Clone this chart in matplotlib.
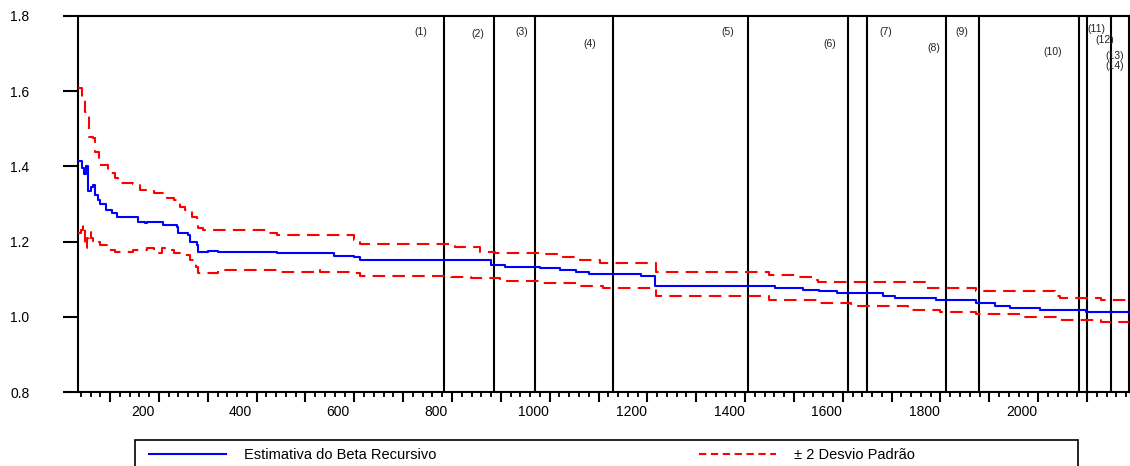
import matplotlib
matplotlib.use('Agg')
import matplotlib.pyplot as plt
from matplotlib.lines import Line2D
from matplotlib.patches import Rectangle
from matplotlib.ticker import MultipleLocator, FuncFormatter
from matplotlib.transforms import ScaledTranslation

plt.rcParams['font.family'] = ['Liberation Sans', 'DejaVu Sans']

# recursive beta estimate (step series: observation where a level starts)
beta_obs = [35, 42, 46, 50, 55, 62, 66, 70, 76, 80,
            92, 105, 114, 158, 172, 176, 208, 237, 240, 260,
            264, 278, 281, 300, 320, 442, 558, 599, 612, 879,
            909, 981, 1022, 1053, 1080, 1186, 1215, 1461, 1519, 1551,
            1589, 1609, 1682, 1707, 1790, 1873, 1911, 1942, 2004, 2098,
            2186]
beta_val = [1.415, 1.395, 1.38, 1.40, 1.335, 1.345, 1.35, 1.325, 1.31, 1.30,
            1.285, 1.275, 1.266, 1.253, 1.249, 1.253, 1.244, 1.24, 1.222, 1.218,
            1.20, 1.19, 1.173, 1.176, 1.173, 1.169, 1.162, 1.160, 1.150, 1.138,
            1.133, 1.130, 1.125, 1.120, 1.114, 1.109, 1.083, 1.077, 1.070, 1.068,
            1.064, 1.062, 1.055, 1.050, 1.044, 1.037, 1.030, 1.023, 1.019, 1.014,
            1.014]

# +2 s.e. band
upper_obs = [35, 42, 49, 55, 56, 66, 70, 77, 96, 110,
             117, 148, 162, 189, 216, 230, 243, 253, 267, 278,
             281, 290, 421, 442, 599, 612, 807, 858, 889, 981,
             1022, 1063, 1104, 1186, 1217, 1450, 1506, 1540, 1550, 1768,
             1873, 2034, 2045, 2129, 2186]
upper_val = [1.608, 1.585, 1.545, 1.537, 1.479, 1.475, 1.439, 1.404, 1.382, 1.368,
             1.357, 1.352, 1.337, 1.328, 1.315, 1.311, 1.293, 1.284, 1.266, 1.257,
             1.235, 1.23, 1.222, 1.218, 1.204, 1.193, 1.186, 1.173, 1.17, 1.166,
             1.16, 1.151, 1.144, 1.142, 1.118, 1.111, 1.106, 1.099, 1.093, 1.077,
             1.068, 1.055, 1.050, 1.044, 1.041]

# -2 s.e. band
lower_obs = [35, 40, 45, 49, 53, 57, 62, 66, 73, 80,
             96, 110, 148, 175, 189, 206, 222, 230, 250, 264,
             275, 281, 322, 444, 520, 530, 599, 612, 797, 838,
             899, 981, 1022, 1063, 1110, 1213, 1217, 1450, 1554, 1616,
             1733, 1800, 1873, 1969, 2039, 2129, 2186]
lower_val = [1.222, 1.23, 1.244, 1.182, 1.21, 1.226, 1.21, 1.196, 1.20, 1.19,
             1.178, 1.173, 1.178, 1.182, 1.169, 1.182, 1.178, 1.169, 1.164, 1.151,
             1.133, 1.116, 1.124, 1.12, 1.124, 1.12, 1.116, 1.109, 1.106, 1.103,
             1.096, 1.09, 1.091, 1.082, 1.076, 1.074, 1.055, 1.045, 1.037, 1.030,
             1.019, 1.014, 1.008, 0.999, 0.991, 0.985, 0.985]

# structural break markers
break_obs = [784, 887, 969, 1129, 1407, 1610, 1649, 1811, 1879, 2084, 2100, 2149]
break_labels = ['(1)', '(2)', '(3)', '(4)', '(5)', '(6)', '(7)', '(8)', '(9)',
                '(10)', '(11)', '(12)', '(13)', '(14)']
label_x = [737, 852, 942, 1082, 1364, 1573, 1688, 1786, 1844, 2030, 2120, 2137, 2157, 2157]
label_y = [1.757, 1.752, 1.757, 1.726, 1.757, 1.726, 1.757, 1.715, 1.757, 1.704,
           1.765, 1.736, 1.694, 1.667]

BLUE = '#0000ff'
RED = '#ff0000'
DASH = (0, (6, 3.5))

fig = plt.figure(figsize=(11.3, 4.66), dpi=100)
ax = fig.add_axes([78/1130, 1 - 392/466, 1051/1130, 376/466])

ax.plot(upper_obs, upper_val, drawstyle='steps-post', color=RED, lw=1.5, ls=DASH, zorder=3)
ax.plot(lower_obs, lower_val, drawstyle='steps-post', color=RED, lw=1.5, ls=DASH, zorder=3)
ax.plot(beta_obs, beta_val, drawstyle='steps-post', color=BLUE, lw=1.5, zorder=4)

for b in break_obs:
    ax.axvline(b, color='black', lw=1.5, zorder=2)
for t, x, y in zip(break_labels, label_x, label_y):
    ax.text(x, y, t, fontsize=7.5, ha='center', va='center', color='#222222')

ax.set_xlim(34.4, 2186)
ax.set_ylim(0.8, 1.8)

for sp in ax.spines.values():
    sp.set_linewidth(1.5)

ax.yaxis.set_major_locator(MultipleLocator(0.2))
ax.yaxis.set_major_formatter(FuncFormatter(lambda v, p: f'{v:.1f}'))
ax.tick_params(axis='y', direction='out', length=11, width=1.5, pad=24, labelsize=10)

ax.xaxis.set_major_locator(MultipleLocator(100))
ax.xaxis.set_minor_locator(MultipleLocator(20))
ax.xaxis.set_major_formatter(FuncFormatter(lambda v, p: f'{int(round(v))}' if round(v) % 200 == 0 else ''))
ax.tick_params(axis='x', which='major', direction='out', length=7.2, width=1.5, pad=2.5, labelsize=10)
ax.tick_params(axis='x', which='minor', direction='out', length=3.6, width=1.3)
shift = ScaledTranslation(-16/100, 0, fig.dpi_scale_trans)
for lbl in ax.get_xticklabels():
    lbl.set_transform(lbl.get_transform() + shift)

# legend below the plot
fig.patches.append(Rectangle((135/1130, -0.05), 943/1130, 0.05 + 1 - 440/466,
                             transform=fig.transFigure, fill=False,
                             edgecolor='black', lw=1.2))
handles = [Line2D([], [], color=BLUE, lw=1.5),
           Line2D([], [], color=RED, lw=1.5, ls=(0, (3.5, 2.2)))]
fig.legend(handles, ['Estimativa do Beta Recursivo', '± 2 Desvio Padrão'],
           loc='center left', bbox_to_anchor=(149/1130, 1 - 455/466),
           ncol=2, frameon=False, fontsize=10.5, handlelength=5.3,
           handletextpad=1.23, columnspacing=18.0, borderpad=0, borderaxespad=0)

fig.savefig('out.png', dpi=100)
